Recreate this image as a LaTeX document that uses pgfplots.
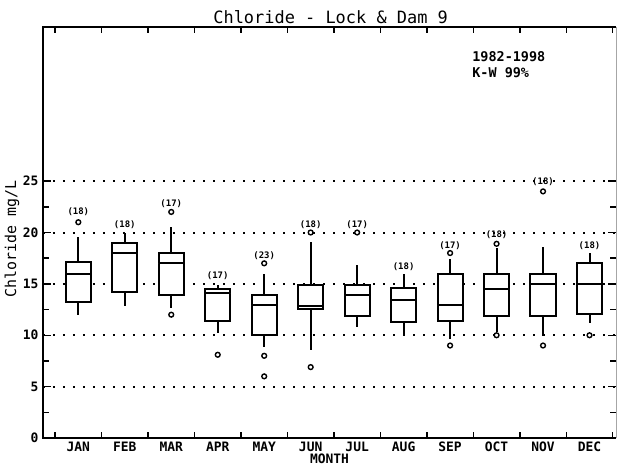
\documentclass[border=0pt]{standalone}
\usepackage{fontspec}
\setmainfont{DejaVu Sans Mono}
\usepackage{pgfplots}
\usepgfplotslibrary{statistics}
\pgfplotsset{compat=1.18}
\begin{document}
\begin{tikzpicture}
\begin{axis}[
  scale only axis, width=573bp, height=411bp,
  xmin=-0.76, xmax=11.57, ymin=0, ymax=40,
  boxplot/draw direction=y,
  axis line style={draw=none},
  xtick={0,...,11},
  xticklabels={JAN,FEB,MAR,APR,MAY,JUN,JUL,AUG,SEP,OCT,NOV,DEC},
  minor xtick={-0.5,0.5,...,11.5},
  major x tick style={draw=none},
  xtick pos=both, xticklabel pos=bottom,
  ytick={0,5,...,25},
  minor ytick={2.5,7.5,...,22.5},
  ytick pos=both, yticklabel pos=left,
  tick align=inside,
  major tick length=8bp, minor tick length=6bp,
  every tick/.style={black, line width=1.4bp},
  xticklabel style={font=\bfseries\fontsize{13}{13}\selectfont, anchor=center, yshift=-9bp},
  yticklabel style={font=\bfseries\fontsize{13}{13}\selectfont, xshift=-1bp},
  /pgf/number format/assume math mode=true,
  ymajorgrids, grid style={black, line width=2bp, dash pattern=on 1.8bp off 8.2bp},
  clip=false,
]
\draw[line width=1.6bp] (rel axis cs:1,1) -- (rel axis cs:0,1) -- (rel axis cs:0,0) -- (rel axis cs:1,0);
\draw[black!35, line width=0.6bp] (rel axis cs:1,0) -- (rel axis cs:1,1);

\pgfplotsset{bx/.style={black, line width=2bp, solid, fill=white, mark=none}}
\addplot[bx, boxplot prepared={draw position=0, lower whisker=12.0, lower quartile=13.2, median=16.0, upper quartile=17.1, upper whisker=19.6, box extend=0.54, whisker extend=0}] coordinates {};
\addplot[bx, boxplot prepared={draw position=1, lower whisker=12.8, lower quartile=14.2, median=18.0, upper quartile=19.0, upper whisker=20.0, box extend=0.54, whisker extend=0}] coordinates {};
\addplot[bx, boxplot prepared={draw position=2, lower whisker=12.7, lower quartile=13.9, median=17.0, upper quartile=18.0, upper whisker=20.5, box extend=0.54, whisker extend=0}] coordinates {};
\addplot[bx, boxplot prepared={draw position=3, lower whisker=10.2, lower quartile=11.4, median=14.1, upper quartile=14.5, upper whisker=14.9, box extend=0.54, whisker extend=0}] coordinates {};
\addplot[bx, boxplot prepared={draw position=4, lower whisker=8.9, lower quartile=10.0, median=12.9, upper quartile=13.9, upper whisker=16.0, box extend=0.54, whisker extend=0}] coordinates {};
\addplot[bx, boxplot prepared={draw position=5, lower whisker=8.6, lower quartile=12.6, median=12.8, upper quartile=14.9, upper whisker=19.1, box extend=0.54, whisker extend=0}] coordinates {};
\addplot[bx, boxplot prepared={draw position=6, lower whisker=10.8, lower quartile=11.9, median=13.9, upper quartile=14.9, upper whisker=16.8, box extend=0.54, whisker extend=0}] coordinates {};
\addplot[bx, boxplot prepared={draw position=7, lower whisker=9.9, lower quartile=11.3, median=13.4, upper quartile=14.6, upper whisker=16.0, box extend=0.54, whisker extend=0}] coordinates {};
\addplot[bx, boxplot prepared={draw position=8, lower whisker=9.6, lower quartile=11.4, median=12.9, upper quartile=16.0, upper whisker=17.4, box extend=0.54, whisker extend=0}] coordinates {};
\addplot[bx, boxplot prepared={draw position=9, lower whisker=10.3, lower quartile=11.9, median=14.5, upper quartile=16.0, upper whisker=18.5, box extend=0.54, whisker extend=0}] coordinates {};
\addplot[bx, boxplot prepared={draw position=10, lower whisker=9.9, lower quartile=11.9, median=15.0, upper quartile=16.0, upper whisker=18.6, box extend=0.54, whisker extend=0}] coordinates {};
\addplot[bx, boxplot prepared={draw position=11, lower whisker=11.2, lower quartile=12.1, median=15.0, upper quartile=17.0, upper whisker=18.0, box extend=0.54, whisker extend=0}] coordinates {};

% outliers
\addplot[only marks, mark=o, mark size=2.4bp, black, line width=1.4bp] coordinates {
 (0,21.0) (2,22.0) (2,12.0) (3,8.1) (4,17.0) (4,8.0) (4,6.0)
 (5,20.0) (5,6.9) (6,20.0) (8,18.0) (8,9.0) (9,18.9) (9,10.0)
 (10,24.0) (10,9.0) (11,10.0)};

% counts
\addplot[only marks, mark=none, point meta=explicit symbolic,
  nodes near coords, nodes near coords align={center},
  every node near coord/.append style={font=\bfseries\fontsize{9}{9}\selectfont, inner sep=0pt}]
 coordinates {
 (0,22.0)[(18)] (1,20.8)[(18)] (2,22.8)[(17)] (3,15.8)[(17)]
 (4,17.7)[(23)] (5,20.8)[(18)] (6,20.8)[(17)] (7,16.7)[(18)]
 (8,18.7)[(17)] (9,19.8)[(18)] (10,24.9)[(18)] (11,18.7)[(18)]};

\node[anchor=south, font=\fontsize{17}{17}\selectfont, inner sep=0pt] at (rel axis cs:0.502,1.008) {Chloride - Lock \& Dam 9};
\node[anchor=west, font=\bfseries\fontsize{13.5}{14}\selectfont, inner sep=0pt] at (rel axis cs:0.749,0.927) {1982-1998};
\node[anchor=west, font=\bfseries\fontsize{13.5}{14}\selectfont, inner sep=0pt] at (rel axis cs:0.749,0.888) {K-W 99\%};
\node[rotate=90, anchor=center, font=\fontsize{15}{16}\selectfont, inner sep=0pt] at ([xshift=-31bp]rel axis cs:0,0.484) {Chloride mg/L};
\node[font=\bfseries\fontsize{13}{13}\selectfont, inner sep=0pt, anchor=base] at ([yshift=-25bp]rel axis cs:0.5,0) {MONTH};
\end{axis}
\pgfresetboundingbox
\path[use as bounding box] ([xshift=-43bp,yshift=-27bp]current axis.south west) rectangle ([xshift=5bp,yshift=27bp]current axis.north east);
\end{tikzpicture}
\end{document}
